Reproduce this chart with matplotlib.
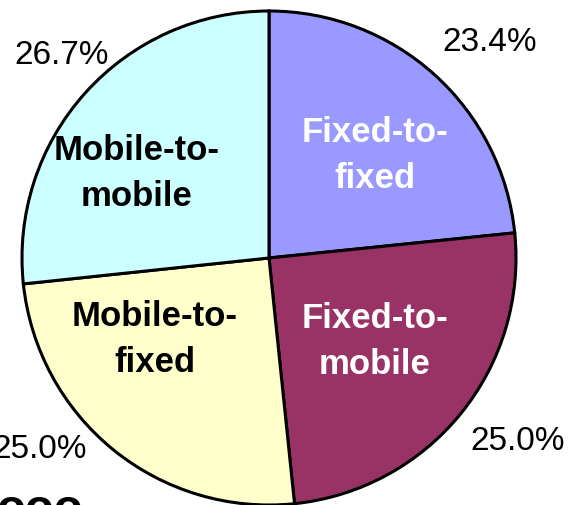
import matplotlib.pyplot as plt

# Call types and their shares (%)
categories = ['Fixed-to-\nfixed', 'Fixed-to-\nmobile', 'Mobile-to-\nfixed', 'Mobile-to-\nmobile']
shares = [23.4, 25.0, 25.0, 26.7]
colors = ['#9999FF', '#993366', '#FFFFCC', '#CCFFFF']
label_colors = ['white', 'white', 'black', 'black']

plt.rcParams['font.family'] = ['Liberation Sans', 'DejaVu Sans']

W, H = 573, 506
fig = plt.figure(figsize=(W / 100, H / 100), dpi=100)
ax = fig.add_axes([0, 0, 1, 1])

cx, cy, r = 269, H - 259, 247
wedges, _ = ax.pie(shares, colors=colors, startangle=90, counterclock=False,
                   center=(cx, cy), radius=r, frame=True,
                   wedgeprops=dict(edgecolor='black', linewidth=2.2))
ax.set_xlim(0, W)
ax.set_ylim(0, H)
ax.set_aspect('auto')
ax.axis('off')

# in-slice category labels
label_pos = [(375, 156), (375, 342), (155, 340), (137, 174)]
for (x, y), name, c in zip(label_pos, categories, label_colors):
    ax.text(x, H - y, name, ha='center', va='center', fontsize=25,
            fontweight='bold', color=c, linespacing=1.5)

# percentage labels outside
pct_pos = [(490, 42), (518, 442), (40, 450), (62, 55)]
for (x, y), v in zip(pct_pos, shares):
    ax.text(x, H - y, f'{v:.1f}%', ha='center', va='center', fontsize=24, color='black')

# cut-off text at bottom edge
ax.text(-4, H - 488, 'ooo', ha='left', va='top', fontsize=34, fontweight='bold', color='black')

fig.savefig('out.png', dpi=100)
